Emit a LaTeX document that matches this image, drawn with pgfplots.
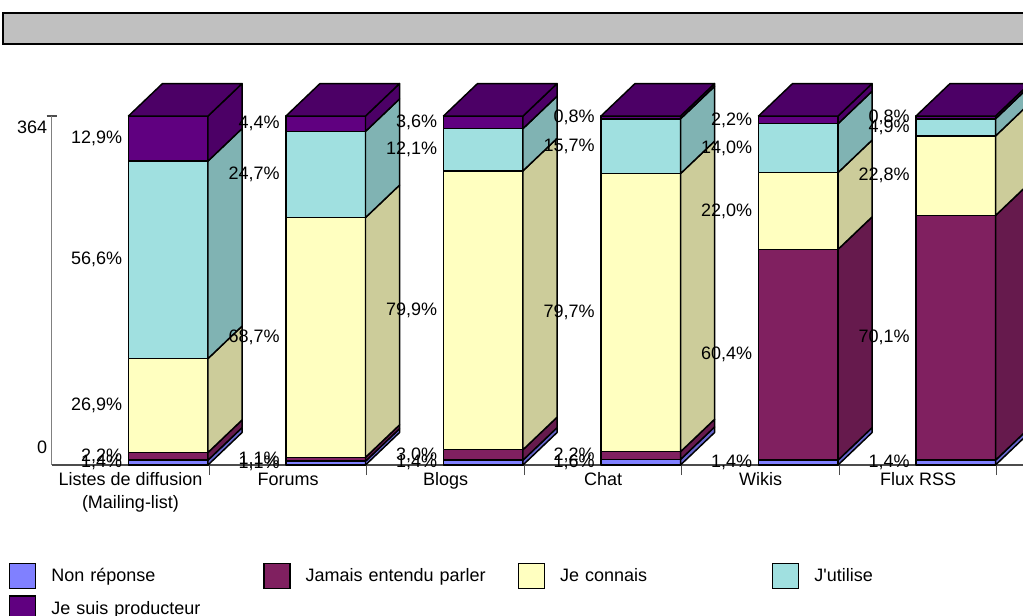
\documentclass[border=0pt]{standalone}
\usepackage{pgfplots}
\pgfplotsset{compat=1.18}
\usepackage{fontspec}
\setmainfont{Liberation Sans}

\definecolor{nrF}{HTML}{8080FF}\definecolor{nrS}{HTML}{6666CC}
\definecolor{jaF}{HTML}{802060}\definecolor{jaS}{HTML}{661A4D}
\definecolor{coF}{HTML}{FFFFC0}\definecolor{coS}{HTML}{CCCC9A}
\definecolor{utF}{HTML}{A0E0E0}\definecolor{utS}{HTML}{80B3B3}
\definecolor{prF}{HTML}{600080}\definecolor{prS}{HTML}{4C0066}
\definecolor{titlegray}{HTML}{C0C0C0}

\newcommand\lbl{\fontsize{13.5}{17}\selectfont}

% 3-D bar geometry in axis units
\def\barL{-0.013}\def\barR{0.492}\def\dx{0.216}\def\dy{9.3}

\pgfplotsset{
  face/.style={draw=black, line width=1.1pt, line join=round, forget plot},
  pctlabel/.style={draw=none, forget plot, point meta=explicit,
    nodes near coords={\pgfmathprintnumber[fixed,fixed zerofill,precision=1,use comma,assume math mode=true]{\pgfplotspointmeta}\%},
    nodes near coords align={anchor=east},
    nodes near coords style={font=\lbl, inner sep=0pt}},
}

% one segment: front colour, side colour, value (uses \kk and \cum)
\newcommand\seg[3]{%
  \pgfmathsetmacro\ya{\cum}%
  \pgfmathsetmacro\yb{\cum+#3}%
  \pgfmathsetmacro\xa{\kk+\barL}%
  \pgfmathsetmacro\xb{\kk+\barR}%
  \pgfmathsetmacro\xc{\kk+\barR+\dx}%
  \pgfmathsetmacro\yc{\ya+\dy}%
  \pgfmathsetmacro\yd{\yb+\dy}%
  \pgfmathsetmacro\ym{(\ya+\yb)/2}%
  \pgfmathsetmacro\xl{\kk+\barL-0.038}%
  \edef\doit{%
    \noexpand\addplot[face, fill=#1] coordinates {(\xa,\ya) (\xb,\ya) (\xb,\yb) (\xa,\yb)} --cycle;
    \noexpand\addplot[face, fill=#2] coordinates {(\xb,\ya) (\xc,\yc) (\xc,\yd) (\xb,\yb)} --cycle;
    \noexpand\addplot[pctlabel] coordinates {(\xl,\ym) [#3]};
  }\doit
  \global\let\cum\yb
}

% one category: index, then the five percentages
\newcommand\stackbar[6]{%
  \def\kk{#1}\gdef\cum{0}%
  \seg{nrF}{nrS}{#2}\seg{jaF}{jaS}{#3}\seg{coF}{coS}{#4}\seg{utF}{utS}{#5}\seg{prF}{prS}{#6}%
  \pgfmathsetmacro\xa{\kk+\barL}%
  \pgfmathsetmacro\xb{\kk+\barR}%
  \pgfmathsetmacro\xc{\kk+\barR+\dx}%
  \pgfmathsetmacro\xe{\kk+\barL+\dx}%
  \pgfmathsetmacro\yt{\cum+\dy}%
  \edef\doit{%
    \noexpand\addplot[face, fill=prS] coordinates {(\xa,\cum) (\xb,\cum) (\xc,\yt) (\xe,\yt)} --cycle;
  }\doit
}

\begin{document}
\begin{tikzpicture}
\useasboundingbox (0,0) rectangle (767.25pt,461.25pt);
\begin{axis}[
  at={(38.8125pt,112.5pt)}, anchor=south west,
  scale only axis, width=728.5pt, height=287.9pt,
  xmin=-0.5, xmax=5.667, ymin=0, ymax=110,
  enlargelimits=false, clip=false,
  font=\lbl,
  axis x line*=bottom, axis y line*=left,
  y axis line style={draw=none},
  x axis line style={draw=gray!60!black, line width=1pt, -},
  tick style={draw=gray!60!black, line width=1pt},
  major tick length=7.5pt,
  xtick={0.5,1.5,2.5,3.5,4.5,5.5}, xticklabels={},
  xtick align=outside,
  extra x ticks={0,1,2,3,4,5},
  extra x tick labels={{Listes de diffusion\\(Mailing-list)},Forums,Blogs,Chat,Wikis,Flux RSS},
  extra x tick style={major tick length=0pt},
  xticklabel style={font=\lbl, align=center, yshift=-2.2pt},
  ytick={100}, yticklabels={}, ytick align=center,
  extra y ticks={5.2,96.85}, extra y tick labels={0,364},
  extra y tick style={major tick length=0pt},
  yticklabel style={font=\lbl},
  legend image code/.code={\draw[#1, draw=black, line width=1pt] (0pt,-9.4pt) rectangle (19.5pt,9.4pt);},
  legend columns=4, legend cell align=left,
  legend style={at={(axis description cs:-0.044,-0.2553)}, anchor=north west,
    draw=none, fill=none, inner sep=0pt, outer sep=0pt, row sep=4.5pt, font=\lbl,
    nodes={inner sep=0pt, text width=159pt},
    /tikz/every odd column/.append style={column sep=11.25pt}},
]
\addlegendimage{fill=nrF}\addlegendentry{Non réponse}
\addlegendimage{fill=jaF}\addlegendentry{Jamais entendu parler}
\addlegendimage{fill=coF}\addlegendentry{Je connais}
\addlegendimage{fill=utF}\addlegendentry{J\textquotesingle utilise}
\addlegendimage{fill=prF}\addlegendentry{Je suis producteur}

\addplot[gray, line width=1pt, forget plot] coordinates {(-0.5,0) (-0.5,100)};

% Non reponse, Jamais entendu parler, Je connais, J'utilise, Je suis producteur
\stackbar{0}{1.4}{2.2}{26.9}{56.6}{12.9}
\stackbar{1}{1.1}{1.1}{68.7}{24.7}{4.4}
\stackbar{2}{1.4}{3.0}{79.9}{12.1}{3.6}
\stackbar{3}{1.6}{2.2}{79.7}{15.7}{0.8}
\stackbar{4}{1.4}{60.4}{22.0}{14.0}{2.2}
\stackbar{5}{1.4}{70.1}{22.8}{4.9}{0.8}
\end{axis}
\draw[fill=titlegray, line width=1.5pt] (2.25pt,451.5pt) rectangle (790pt,428.25pt);
\end{tikzpicture}
\end{document}
